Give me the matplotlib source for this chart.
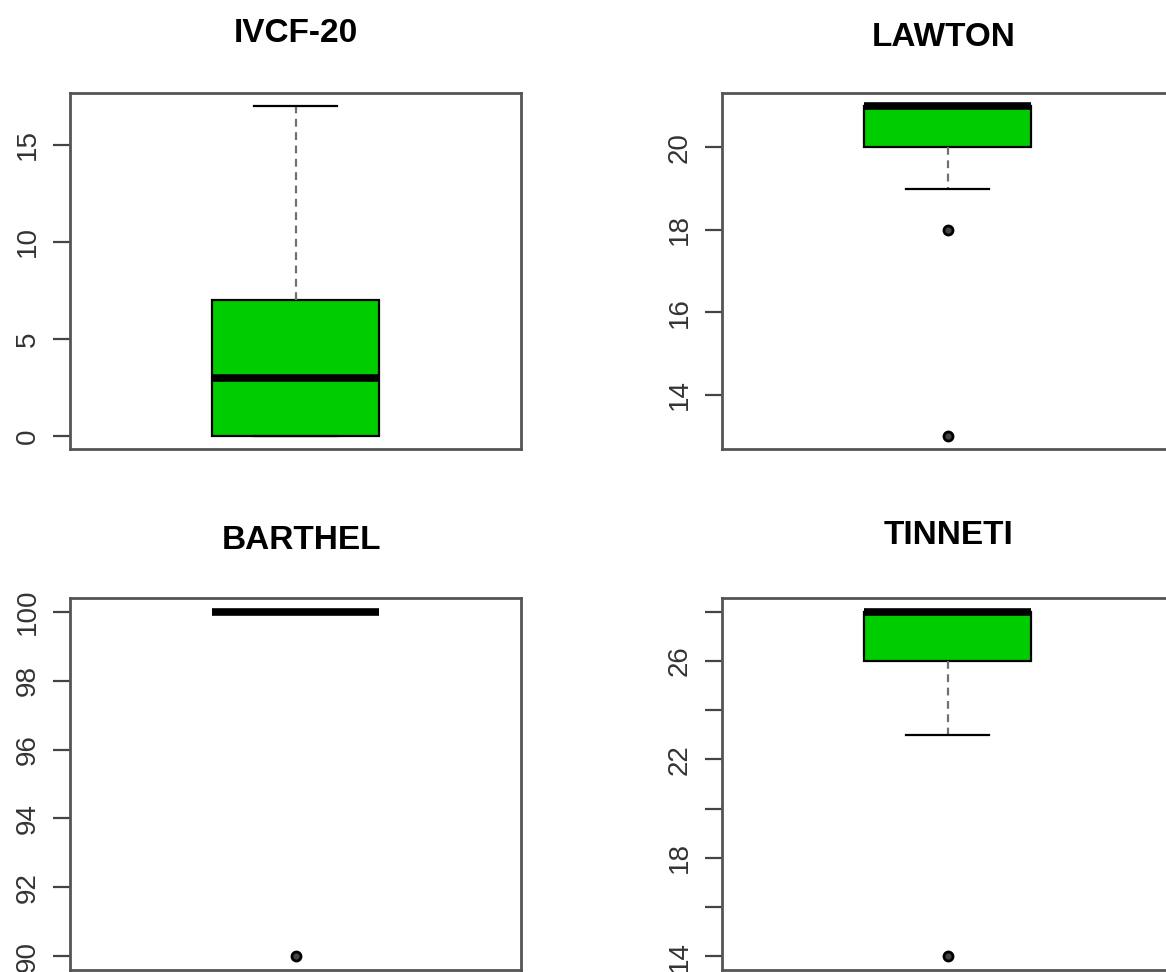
import matplotlib
matplotlib.use("Agg")
import matplotlib.pyplot as plt

# ---- data ----
titles = ["IVCF-20", "LAWTON", "BARTHEL", "TINNETI"]
q1 = [0, 20, 100, 26]
medians = [3, 21, 100, 28]
q3 = [7, 21, 100, 28]
whis_lo = [0, 19, 100, 23]
whis_hi = [17, 21, 100, 28]
outliers = [[], [18, 13], [90], [14]]
ylims = [(-0.68, 17.68), (12.68, 21.32), (89.6, 100.4), (13.44, 28.56)]
yticks = [[0, 5, 10, 15], [14, 16, 18, 20],
          [90, 92, 94, 96, 98, 100],
          [14, 16, 18, 20, 22, 24, 26, 28]]
yticklabels = [["0", "5", "10", "15"], ["14", "16", "18", "20"],
               ["90", "92", "94", "96", "98", "100"],
               ["14", "", "18", "", "22", "", "26", ""]]

W, H = 1166, 972
fig = plt.figure(figsize=(W / 100, H / 100), dpi=100)
plt.rcParams['font.family'] = ['Liberation Sans', 'DejaVu Sans']

# axes frames in pixels: left, top, width, height
frames = [(70, 93, 451, 356), (722, 93, 451, 356),
          (70, 598, 451, 372), (722, 598, 451, 372)]
title_pos = [(296, 33), (944, 37), (301, 540), (948, 535)]

green = "#00CD00"
for i in range(4):
    l, t, w, h = frames[i]
    ax = fig.add_axes([l / W, 1 - (t + h) / H, w / W, h / H])
    stats = [dict(med=medians[i], q1=q1[i], q3=q3[i],
                  whislo=whis_lo[i], whishi=whis_hi[i], fliers=outliers[i])]
    ax.bxp(stats, positions=[1], widths=0.37, patch_artist=True,
           showfliers=True,
           boxprops=dict(facecolor=green, edgecolor="black", linewidth=1.6),
           medianprops=dict(color="black", linewidth=5.5, solid_capstyle="butt"),
           whiskerprops=dict(color="#707070", linestyle=(0, (3.5, 2.5)), linewidth=1.6),
           capprops=dict(color="black", linewidth=1.6),
           flierprops=dict(marker="o", markerfacecolor="#444444",
                           markeredgecolor="black", markersize=6.5,
                           markeredgewidth=2.0))
    ax.set_xlim(0.5, 1.5)
    ax.set_ylim(*ylims[i])
    ax.set_xticks([])
    ax.set_yticks(yticks[i])
    ax.set_yticklabels(yticklabels[i])
    ax.tick_params(axis="y", length=12, width=1.6, color="#444444", pad=9,
                   labelsize=20, labelcolor="#333333", labelrotation=90)
    for lab in ax.get_yticklabels():
        lab.set_va("center")
    for sp in ax.spines.values():
        sp.set_color("#555555")
        sp.set_linewidth(2)
    tx, ty = title_pos[i]
    fig.text(tx / W, 1 - ty / H, titles[i], ha="center", va="center",
             fontsize=24, fontweight="bold", color="black")

fig.savefig("out.png", dpi=100)
